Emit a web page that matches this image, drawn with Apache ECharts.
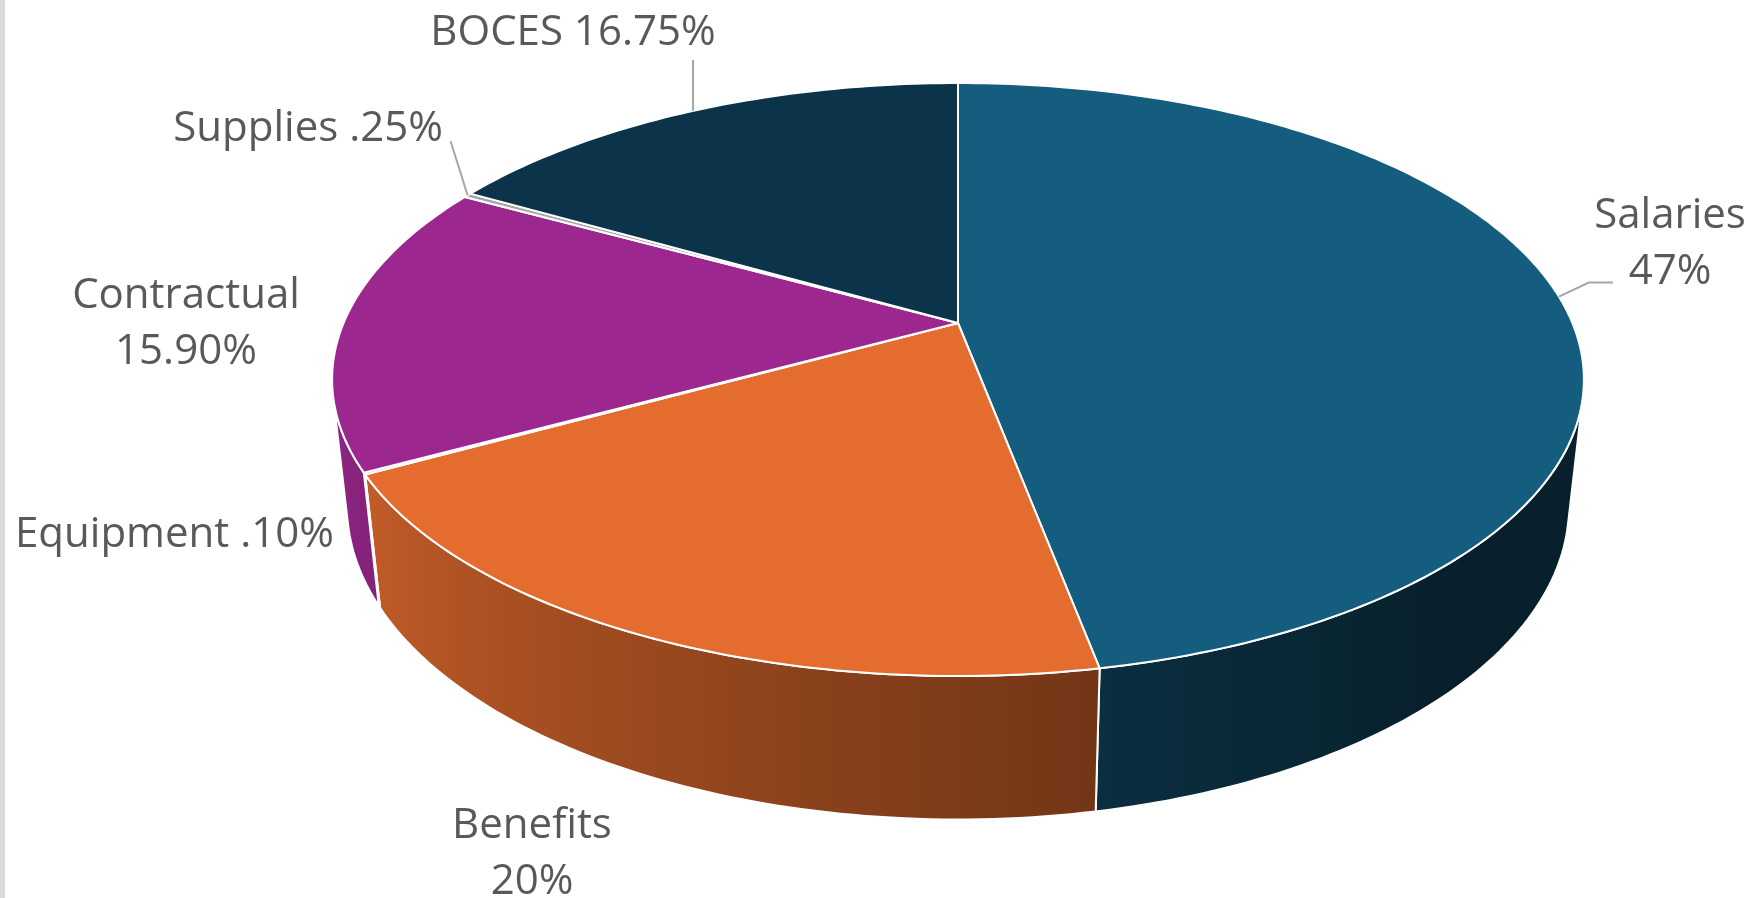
<!DOCTYPE html>
<html>
<head>
<meta charset="utf-8">
<title>Budget breakdown</title>
<script src="https://cdn.jsdelivr.net/npm/echarts@6.0.0/dist/echarts.min.js"></script>
<style>
  html, body { margin: 0; padding: 0; background: #fff; }
  #chart { width: 1760px; height: 898px; }
</style>
</head>
<body>
<div id="chart"></div>
<script>
  // ---- data ----
  var categories = ['Salaries', 'Benefits', 'Equipment', 'Contractual', 'Supplies', 'BOCES'];
  var shares = [47, 20, 0.1, 15.9, 0.25, 16.75];
  var shareLabels = ['47%', '20%', '.10%', '15.90%', '.25%', '16.75%'];

  // ---- styles ----
  var sliceColors = ['#155d7e', '#e46c2e', '#6a2f8a', '#9c288f', '#a5a5a5', '#0b3349'];
  var textColor = '#595959';
  var leaderColor = '#a6a6a6';
  var fontFamily = '"Open Sans", sans-serif';
  var fontSize = 42;

  // perspective pie: centre on screen, focal length, camera distance, tilt, thickness
  var PIE = { cx: 958, cy: 323, f: 2854, dist: 4.645, tilt: Math.asin(0.465), depth: 0.235 };

  // where each label sits (two lines = name over value)
  var labelLayout = [
    { x: 1670, y: 244, twoLines: true, align: 'center', anchor: 0.5, leader: [[30, -14], [54, -14]] },
    { x: 532, y: 854, twoLines: true, align: 'center', anchor: 0.5, leader: null },
    { x: 334, y: 535, twoLines: false, align: 'right', anchor: 0.5, leader: null },
    { x: 186, y: 324, twoLines: true, align: 'center', anchor: 0.5, leader: null },
    { x: 443, y: 129, twoLines: false, align: 'right', anchor: 0.5, leader: [[-17, -54]] },
    { x: 573, y: 33, twoLines: false, align: 'center', anchor: 0.5, leader: [[0, -51]] }
  ];

  var total = shares.reduce(function (s, v) { return s + v; }, 0);
  var startAngles = [];
  var acc = 0;
  shares.forEach(function (v) { startAngles.push(acc / total * Math.PI * 2); acc += v; });

  function project(r, theta, h) {
    var x = r * Math.sin(theta), z = r * Math.cos(theta);
    var ct = Math.cos(PIE.tilt), st = Math.sin(PIE.tilt);
    var v = h * ct + z * st;
    var w = PIE.dist + z * ct - h * st;
    return [PIE.cx + PIE.f * x / w, PIE.cy - PIE.f * v / w];
  }

  // outer wall faces the camera where cos(theta) < -1/(dist*cos(tilt))
  var visA = Math.acos(-1 / (PIE.dist * Math.cos(PIE.tilt)));
  var visB = Math.PI * 2 - visA;

  function shade(hex, k) {
    var n = parseInt(hex.slice(1), 16);
    var r = Math.round(((n >> 16) & 255) * k);
    var g = Math.round(((n >> 8) & 255) * k);
    var b = Math.round((n & 255) * k);
    return 'rgb(' + r + ',' + g + ',' + b + ')';
  }
  function light(theta) {
    var deg = theta * 180 / Math.PI;
    return Math.max(0.34, Math.min(0.95, 0.5 + (deg - 169) * 0.0048));
  }

  function arc(a, b, h) {
    var pts = [];
    var n = Math.max(2, Math.ceil((b - a) / (Math.PI / 180)));
    for (var i = 0; i <= n; i++) pts.push(project(1, a + (b - a) * i / n, h));
    return pts;
  }

  function sideFill(color, a, b) {
    var n = Math.max(2, Math.ceil((b - a) / (Math.PI / 90)));
    var samples = [];
    for (var i = 0; i <= n; i++) {
      var th = a + (b - a) * i / n;
      samples.push({ x: project(1, th, -PIE.depth / 2)[0], c: shade(color, light(th)) });
    }
    var xs = samples.map(function (s) { return s.x; });
    var minX = Math.min.apply(null, xs), maxX = Math.max.apply(null, xs);
    var span = Math.max(1, maxX - minX);
    var stops = samples.map(function (s) { return { offset: (s.x - minX) / span, color: s.c }; });
    stops.sort(function (p, q) { return p.offset - q.offset; });
    return new echarts.graphic.LinearGradient(minX, 0, maxX, 0, stops, true);
  }

  function renderSlice(params, api) {
    var idx = params.dataIndex;
    var a = startAngles[idx];
    var b = a + api.value(0) / total * Math.PI * 2;
    var color = sliceColors[idx];
    var children = [];

    // outer wall
    var s = Math.max(a, visA), e = Math.min(b, visB);
    if (s < e) {
      var topArc = arc(s, e, 0);
      var botArc = arc(s, e, -PIE.depth).reverse();
      children.push({
        type: 'polygon',
        z2: 1,
        shape: { points: topArc.concat(botArc) },
        style: { fill: sideFill(color, s, e), stroke: '#ffffff', lineWidth: 2, lineJoin: 'round' }
      });
    }

    // top face
    var topPts = [project(0, 0, 0)].concat(arc(a, b, 0));
    children.push({
      type: 'polygon',
      z2: 2,
      shape: { points: topPts },
      style: { fill: color, stroke: '#ffffff', lineWidth: 2, lineJoin: 'round' }
    });

    // label + leader line
    var lay = labelLayout[idx];
    var anchor = project(1, a + (b - a) * lay.anchor, 0);
    if (lay.leader) {
      var line = [anchor].concat(lay.leader.map(function (d) { return [anchor[0] + d[0], anchor[1] + d[1]]; }));
      children.push({
        type: 'polyline',
        z2: 3,
        shape: { points: line },
        style: { stroke: leaderColor, lineWidth: 2, fill: null }
      });
    }
    var txt = lay.twoLines ? categories[idx] + '\n' + shareLabels[idx] : categories[idx] + ' ' + shareLabels[idx];
    children.push({
      type: 'text',
      z2: 4,
      style: {
        text: txt,
        x: lay.x,
        y: lay.y,
        fill: textColor,
        fontSize: fontSize,
        fontFamily: fontFamily,
        lineHeight: 56,
        align: lay.align,
        verticalAlign: 'middle'
      }
    });

    return { type: 'group', children: children };
  }

  var option = {
    backgroundColor: '#ffffff',
    animation: false,
    graphic: [{
      type: 'rect',
      shape: { x: 0, y: 0, width: 5, height: 898 },
      style: { fill: '#d9d9d9' }
    }],
    series: [{
      type: 'custom',
      coordinateSystem: 'none',
      renderItem: renderSlice,
      data: shares.map(function (v, i) { return { name: categories[i], value: [v, i] }; })
    }]
  };

  var chart = echarts.init(document.getElementById('chart'));
  chart.setOption(option);
</script>
</body>
</html>
